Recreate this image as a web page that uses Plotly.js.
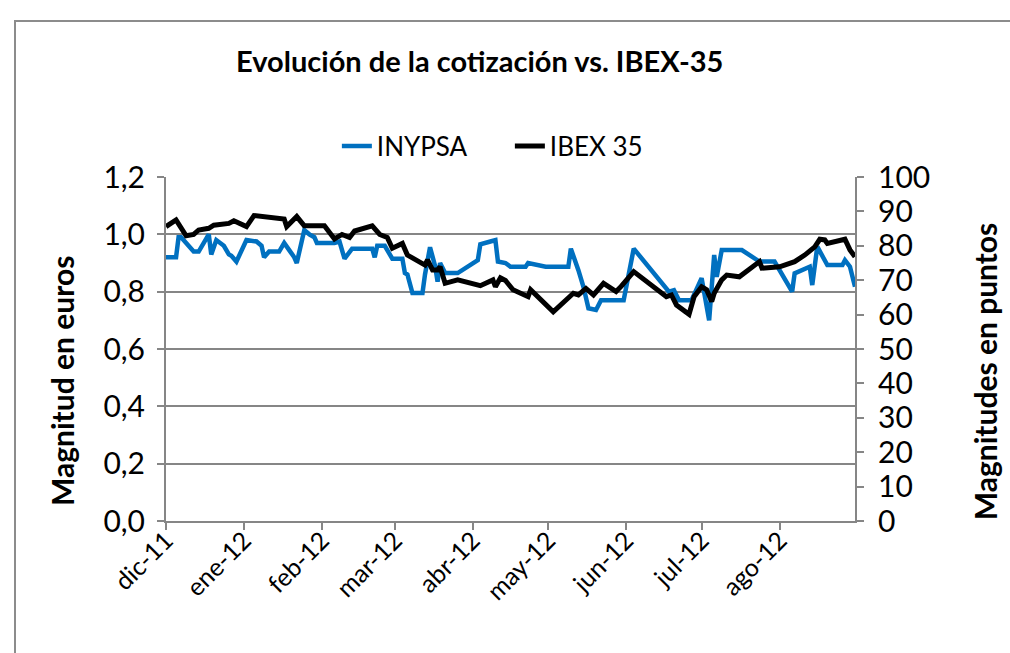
<!DOCTYPE html>
<html>
<head>
<meta charset="utf-8">
<script src="https://cdn.plot.ly/plotly-3.0.1.min.js"></script>
<style>
  body { margin: 0; background: #fff; }
  #frame { position: absolute; left: 14px; top: 20px; width: 1100px; height: 700px; border: 2px solid #8c8c8c; }
  #chart { position: absolute; left: 0; top: 0; width: 1010px; height: 653px; }
</style>
</head>
<body>
<div id="frame"></div>
<div id="chart"></div>
<script>
// INYPSA share price (euros)
var inypsaDates = [
  "2011-12-01", "2011-12-05", "2011-12-06", "2011-12-07", "2011-12-12", "2011-12-14",
  "2011-12-18", "2011-12-19", "2011-12-21", "2011-12-24", "2011-12-26", "2011-12-27",
  "2011-12-29", "2012-01-02", "2012-01-06", "2012-01-08", "2012-01-09", "2012-01-11",
  "2012-01-15", "2012-01-17", "2012-01-19", "2012-01-21", "2012-01-22", "2012-01-25",
  "2012-01-27", "2012-01-29", "2012-01-30", "2012-02-06", "2012-02-08", "2012-02-10",
  "2012-02-13", "2012-02-21", "2012-02-22", "2012-02-23", "2012-02-26", "2012-02-29",
  "2012-03-04", "2012-03-05", "2012-03-06", "2012-03-08", "2012-03-12", "2012-03-13",
  "2012-03-15", "2012-03-17", "2012-03-18", "2012-03-19", "2012-03-21", "2012-03-26",
  "2012-04-03", "2012-04-04", "2012-04-08", "2012-04-10", "2012-04-11", "2012-04-14",
  "2012-04-16", "2012-04-22", "2012-04-23", "2012-04-30", "2012-05-09", "2012-05-10",
  "2012-05-13", "2012-05-15", "2012-05-17", "2012-05-20", "2012-05-22", "2012-05-31",
  "2012-06-04", "2012-06-18", "2012-06-20", "2012-06-22", "2012-06-27", "2012-07-01",
  "2012-07-04", "2012-07-06", "2012-07-07", "2012-07-09", "2012-07-17", "2012-07-24",
  "2012-07-30", "2012-08-06", "2012-08-07", "2012-08-13", "2012-08-14", "2012-08-16",
  "2012-08-20", "2012-08-26", "2012-08-27", "2012-08-29", "2012-08-31"
];
var inypsaValues = [
  0.92, 0.92, 0.99, 0.99, 0.94, 0.94,
  1.00, 0.93, 0.98, 0.96, 0.93, 0.925,
  0.905, 0.98, 0.975, 0.96, 0.92, 0.94,
  0.94, 0.97, 0.945, 0.92, 0.90, 1.015,
  1.00, 0.99, 0.97, 0.97, 0.975, 0.915,
  0.95, 0.95, 0.92, 0.96, 0.96, 0.915,
  0.915, 0.865, 0.86, 0.795, 0.795, 0.86,
  0.955, 0.89, 0.835, 0.90, 0.865, 0.865,
  0.91, 0.965, 0.975, 0.98, 0.905, 0.90,
  0.887, 0.887, 0.90, 0.887, 0.887, 0.95,
  0.875, 0.817, 0.742, 0.736, 0.77, 0.77,
  0.95, 0.80, 0.805, 0.77, 0.77, 0.847,
  0.70, 0.928, 0.852, 0.945, 0.945, 0.905,
  0.905, 0.80, 0.864, 0.887, 0.823, 0.957,
  0.893, 0.893, 0.91, 0.887, 0.817
];

// IBEX 35 (points / 100)
var ibexDates = [
  "2011-12-01", "2011-12-05", "2011-12-09", "2011-12-12", "2011-12-14", "2011-12-18",
  "2011-12-20", "2011-12-26", "2011-12-28", "2012-01-02", "2012-01-05", "2012-01-10",
  "2012-01-14", "2012-01-17", "2012-01-18", "2012-01-22", "2012-01-25", "2012-02-02",
  "2012-02-06", "2012-02-09", "2012-02-12", "2012-02-14", "2012-02-21", "2012-02-24",
  "2012-02-27", "2012-02-29", "2012-03-04", "2012-03-06", "2012-03-13", "2012-03-14",
  "2012-03-16", "2012-03-18", "2012-03-19", "2012-03-21", "2012-03-26", "2012-04-04",
  "2012-04-09", "2012-04-10", "2012-04-12", "2012-04-14", "2012-04-17", "2012-04-23",
  "2012-04-24", "2012-05-03", "2012-05-11", "2012-05-13", "2012-05-16", "2012-05-19",
  "2012-05-23", "2012-05-28", "2012-05-30", "2012-06-04", "2012-06-17", "2012-06-19",
  "2012-06-21", "2012-06-26", "2012-06-28", "2012-07-01", "2012-07-03", "2012-07-05",
  "2012-07-06", "2012-07-09", "2012-07-11", "2012-07-16", "2012-07-24", "2012-07-25",
  "2012-08-01", "2012-08-07", "2012-08-11", "2012-08-15", "2012-08-17", "2012-08-19",
  "2012-08-20", "2012-08-27", "2012-08-29", "2012-08-31"
];
var ibexValues = [
  85.6, 87.5, 82.9, 83.3, 84.6, 85.1,
  86.0, 86.5, 87.3, 85.6, 88.8, 88.5,
  88.0, 87.8, 85.6, 88.5, 85.8, 85.8,
  82.0, 83.3, 82.4, 84.3, 85.8, 83.3,
  82.4, 79.3, 80.7, 77.3, 74.4, 75.9,
  73.0, 73.0, 73.9, 69.1, 70.1, 68.4,
  70.1, 68.1, 70.7, 69.9, 67.2, 65.2,
  67.2, 60.8, 66.2, 65.7, 67.6, 65.7,
  69.1, 66.7, 68.2, 72.5, 65.2, 65.7,
  62.8, 60.1, 65.2, 68.1, 67.2, 63.8,
  66.2, 70.1, 71.5, 71.0, 75.4, 73.5,
  73.9, 75.4, 77.3, 79.7, 81.9, 81.7,
  80.7, 81.9, 78.8, 76.8
];

var monthTicks = ["2011-12-01", "2012-01-01", "2012-02-01", "2012-03-01", "2012-04-01",
                  "2012-05-01", "2012-06-01", "2012-07-01", "2012-08-01"];
var monthLabels = ["dic-11", "ene-12", "feb-12", "mar-12", "abr-12",
                   "may-12", "jun-12", "jul-12", "ago-12"];

var axisGray = "#868686";

var data = [
  {
    x: inypsaDates,
    y: inypsaValues,
    name: "INYPSA",
    type: "scatter",
    mode: "lines",
    line: { color: "#0070c0", width: 4.5 },
    yaxis: "y",
  },
  {
    x: ibexDates,
    y: ibexValues,
    name: "IBEX 35",
    type: "scatter",
    mode: "lines",
    line: { color: "#000000", width: 5 },
    yaxis: "y2",
  },
];

var layout = {
  width: 1010,
  height: 653,
  margin: { l: 166, r: 155, t: 177, b: 132 },
  paper_bgcolor: "rgba(0,0,0,0)",
  plot_bgcolor: "rgba(0,0,0,0)",
  separators: ", ",
  font: { family: "Lato, sans-serif", color: "#000" },
  title: {
    text: "<b>Evolución de la cotización vs. IBEX-35</b>",
    font: { size: 29 },
    xref: "container", x: 0.475, xanchor: "center",
    yref: "container", y: 0.905, yanchor: "middle",
  },
  showlegend: true,
  legend: {
    orientation: "h",
    x: 0.248, xanchor: "left",
    y: 1.09, yanchor: "middle",
    font: { size: 26 },
    entrywidth: 128,
    entrywidthmode: "pixels",
    bgcolor: "rgba(0,0,0,0)",
  },
  xaxis: {
    type: "date",
    range: ["2011-12-01", "2012-08-31"],
    tickmode: "array",
    tickvals: monthTicks,
    ticktext: monthLabels,
    tickangle: -45,
    tickfont: { size: 25 },
    ticklabelstandoff: -14,
    showgrid: false,
    zeroline: false,
    showline: true,
    linecolor: axisGray,
    linewidth: 2,
    ticks: "outside",
    ticklen: 7,
    tickwidth: 2,
    tickcolor: axisGray,
  },
  yaxis: {
    range: [0, 1.2],
    tick0: 0,
    dtick: 0.2,
    tickformat: ".1f",
    tickfont: { size: 30 },
    showgrid: true,
    gridcolor: axisGray,
    gridwidth: 2,
    zeroline: false,
    showline: true,
    linecolor: axisGray,
    linewidth: 2,
    ticks: "outside",
    ticklen: 7,
    tickwidth: 2,
    tickcolor: axisGray,
    ticklabelstandoff: 6,
  },
  yaxis2: {
    overlaying: "y",
    side: "right",
    range: [0, 100],
    tick0: 0,
    dtick: 10,
    tickfont: { size: 30 },
    showgrid: false,
    zeroline: false,
    showline: true,
    linecolor: axisGray,
    linewidth: 2,
    ticks: "outside",
    ticklen: 7,
    tickwidth: 2,
    tickcolor: axisGray,
    ticklabelstandoff: 8,
  },
  annotations: [
    {
      text: "<b>Magnitud en euros</b>",
      xref: "paper", yref: "paper",
      x: -0.151, y: 0.407,
      xanchor: "center", yanchor: "middle",
      textangle: -90, showarrow: false,
      font: { size: 30 },
    },
    {
      text: "<b>Magnitudes en puntos</b>",
      xref: "paper", yref: "paper",
      x: 1.189, y: 0.436,
      xanchor: "center", yanchor: "middle",
      textangle: -90, showarrow: false,
      font: { size: 30 },
    },
  ],
};

Plotly.newPlot("chart", data, layout, { displayModeBar: false });
</script>
</body>
</html>
